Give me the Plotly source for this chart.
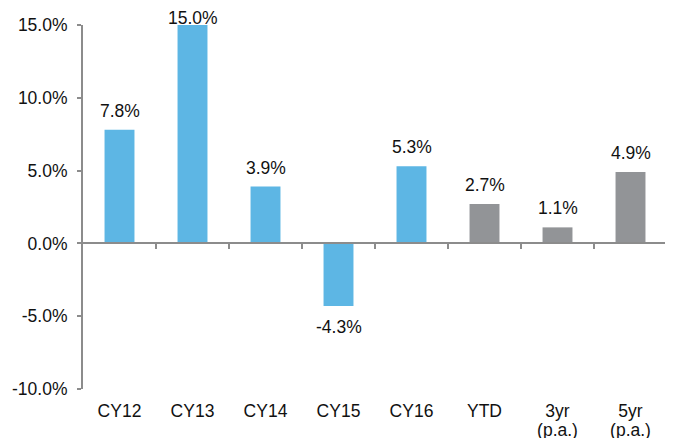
import plotly.graph_objects as go

categories = ["CY12", "CY13", "CY14", "CY15", "CY16", "YTD", "3yr", "5yr"]
sublabels = ["", "", "", "", "", "", "(p.a.)", "(p.a.)"]
values = [7.8, 15.0, 3.9, -4.3, 5.3, 2.7, 1.1, 4.9]
labels = ["7.8%", "15.0%", "3.9%", "-4.3%", "5.3%", "2.7%", "1.1%", "4.9%"]
kinds = ["cal", "cal", "cal", "cal", "cal", "agg", "agg", "agg"]
y_ticks = [-10, -5, 0, 5, 10, 15]
y_tick_text = ["-10.0%", "-5.0%", "0.0%", "5.0%", "10.0%", "15.0%"]

BLUE = "#5DB6E4"
GREY = "#929497"
AXIS = "#8C8C8C"
TXT = "#111111"
FONT = "Liberation Sans, Arial, sans-serif"
FS = 17.5
YMIN, YMAX = -10, 15

colors = [BLUE if k == "cal" else GREY for k in kinds]
idx = list(range(len(categories)))
xr = [-0.5, len(categories) - 0.5]

fig = go.Figure()
fig.add_trace(go.Bar(x=idx, y=values, marker_color=colors, marker_line_width=0,
                     width=0.41, hoverinfo="skip"))

for i, v, t in zip(idx, values, labels):
    if v >= 0:
        shift = 7 if v < YMAX - 0.5 else -5
        fig.add_annotation(x=i, y=min(v, YMAX), text=t, showarrow=False,
                           yanchor="bottom", yshift=shift,
                           font=dict(family=FONT, size=FS, color=TXT))
    else:
        fig.add_annotation(x=i, y=v, text=t, showarrow=False,
                           yanchor="top", yshift=-9,
                           font=dict(family=FONT, size=FS, color=TXT))

# invisible traces so the helper axes are rendered
for ax in ("x2", "x3"):
    fig.add_trace(go.Scatter(x=xr, y=[0, 0], xaxis=ax, mode="lines",
                             line=dict(width=0), hoverinfo="skip", showlegend=False))

# the page body adds an 8px margin, so the figure is 8px smaller than the window
fig.update_layout(
    width=665, height=430,
    margin=dict(l=75, r=6, t=17, b=49, autoexpand=False),
    paper_bgcolor="white", plot_bgcolor="white",
    showlegend=False,
    font=dict(family=FONT, size=FS, color=TXT),
    xaxis=dict(range=xr, tickvals=idx, ticktext=categories,
               showline=False, showgrid=False, zeroline=False, ticks="",
               automargin=False,
               ticklabelstandoff=9, tickfont=dict(family=FONT, size=FS, color=TXT)),
    xaxis3=dict(overlaying="x", anchor="free", position=0, side="bottom",
                range=xr, tickvals=idx, ticktext=sublabels,
                showline=False, showgrid=False, zeroline=False, ticks="",
                automargin=False,
                ticklabelstandoff=28, tickfont=dict(family=FONT, size=FS, color=TXT)),
    xaxis2=dict(overlaying="x", anchor="free", position=(0 - YMIN) / (YMAX - YMIN),
                range=xr, automargin=False,
                tickvals=[i + 0.5 for i in idx], showticklabels=False,
                showline=True, linecolor=AXIS, linewidth=2,
                ticks="outside", ticklen=5, tickwidth=1.5, tickcolor=AXIS,
                showgrid=False, zeroline=False),
    yaxis=dict(range=[YMIN, YMAX], tickvals=y_ticks, ticktext=y_tick_text,
               showline=True, linecolor=AXIS, linewidth=2, automargin=False,
               ticks="outside", ticklen=4, tickwidth=1.5, tickcolor=AXIS,
               showgrid=False, zeroline=False, ticklabelstandoff=6,
               tickfont=dict(family=FONT, size=FS, color=TXT)),
    bargap=0.59,
)

fig.write_html("out.html")
